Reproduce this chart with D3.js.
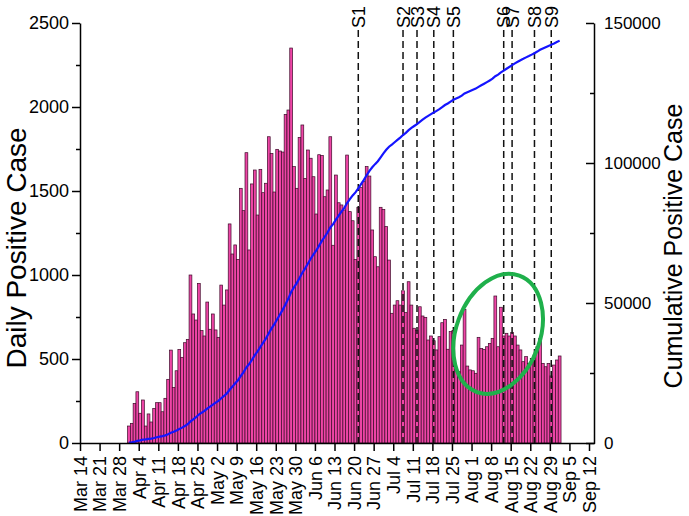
<!DOCTYPE html>
<html><head><meta charset="utf-8">
<script src="https://cdn.jsdelivr.net/npm/d3@7"></script>
<style>
body{margin:0;background:#fff}
svg{display:block}
text{font-family:"Liberation Sans",Arial,Helvetica,sans-serif;fill:#000}
</style>
</head><body>
<svg id="c" width="689" height="516"></svg>
<script>
// ---------------- data ----------------
const firstDate = "2020-03-31";
const dailyCases = [
101,117,236,305,177,256,101,173,125,206,240,240,186,266,379,553,331,430,557,510,597,617,1000,768,732,950,669,637,839,677,768,673,629,940,821,911,1304,1125,1179,
1093,1516,1383,1728,1149,1542,1625,1357,1629,1490,1546,1823,1724,1494,1748,1738,1732,1956,1982,2351,1645,1516,1819,1893,1575,1744,1695,1585,1363,1716,1712,1466,1506,1823,1177,1595,1430,1417,1387,1714,
1377,1323,1093,1403,1522,1556,1645,1589,1268,1109,1049,1403,1390,1288,1089,772,821,847,821,906,776,960,821,683,669,811,756,748,613,637,609,554,633,716,736,558,663,669,439,425,
583,796,458,435,430,415,629,563,557,573,593,623,875,573,808,637,653,637,657,637,583,554,484,514,474,504,524,573,623,474,454,474,399,464,494,518
];
const xDomain = ["2020-03-14", "2020-09-14"];
const xTickDates = ["2020-03-14","2020-03-21","2020-03-28","2020-04-04","2020-04-11","2020-04-18","2020-04-25",
  "2020-05-02","2020-05-09","2020-05-16","2020-05-23","2020-05-30","2020-06-06","2020-06-13","2020-06-20","2020-06-27",
  "2020-07-04","2020-07-11","2020-07-18","2020-07-25","2020-08-01","2020-08-08","2020-08-15","2020-08-22","2020-08-29",
  "2020-09-05","2020-09-12"];
const yLeftTicks = [0, 500, 1000, 1500, 2000, 2500];
const yLeftMinor = [250, 750, 1250, 1750, 2250];
const yRightTicks = [0, 50000, 100000, 150000];
const yRightMinor = [25000, 75000, 125000];
const stageLabels = ["S1","S2","S3","S4","S5","S6","S7","S8","S9"];
const stageDates = ["2020-06-21","2020-07-07","2020-07-12","2020-07-18","2020-07-25","2020-08-12","2020-08-15","2020-08-23","2020-08-29"];
const highlight = {date: "2020-08-10", value: 650};

// ---------------- chart ----------------
const svg = d3.select("#c");
const parse = d3.utcParse("%Y-%m-%d");
const x = d3.scaleUtc().domain(xDomain.map(parse)).range([80, 594.6]);
const yL = d3.scaleLinear().domain([0, 2500]).range([443, 23]);
const yR = d3.scaleLinear().domain([0, 150000]).range([443, 23]);
const t0 = parse(firstDate);
const rows = dailyCases.map((v, i) => ({date: d3.utcDay.offset(t0, i), v}));
const cum = d3.cumsum(dailyCases);
const halfDay = d => d3.utcHour.offset(d, 12);

// bars
svg.append("g").selectAll("rect").data(rows).join("rect")
  .attr("x", d => x(d.date))
  .attr("width", d => x(d3.utcDay.offset(d.date, 1)) - x(d.date))
  .attr("y", d => yL(d.v))
  .attr("height", d => yL(0) - yL(d.v))
  .attr("fill", "#ee45a6")
  .attr("stroke", "#3c0a28")
  .attr("stroke-width", 0.7);

// stage dashed lines
const sg = svg.append("g");
stageDates.forEach((s, i) => {
  const xs = x(halfDay(parse(s)));
  sg.append("line").attr("x1", xs).attr("x2", xs).attr("y1", 30).attr("y2", yL(0))
    .attr("stroke", "#111").attr("stroke-width", 1.5).attr("stroke-dasharray", "7,4");
  sg.append("text").attr("transform", `translate(${xs + 6.5},28) rotate(-90)`)
    .attr("text-anchor", "start").style("font-size", "18px").text(stageLabels[i]);
});

// cumulative line
svg.append("path")
  .datum(rows.map((d, i) => [x(halfDay(d.date)), yR(cum[i])]))
  .attr("d", d3.line())
  .attr("fill", "none").attr("stroke", "#1414ff").attr("stroke-width", 2.2);

// highlight ellipse
svg.append("ellipse")
  .attr("transform", `translate(${x(halfDay(parse(highlight.date)))},${yL(highlight.value)}) rotate(20)`)
  .attr("rx", 42).attr("ry", 62)
  .attr("fill", "none").attr("stroke", "#1fb04b").attr("stroke-width", 4);

// x axis
const gx = svg.append("g").attr("transform", `translate(0,${yL(0)})`)
  .call(d3.axisBottom(x).tickValues(xTickDates.map(parse)).tickFormat(d3.utcFormat("%b %-d")).tickSize(8).tickSizeOuter(0));
gx.selectAll("text").attr("transform", "rotate(-90)").attr("text-anchor", "end")
  .attr("x", -13).attr("y", 0).attr("dy", "0.35em").style("font-size", "18px");

// left axis
svg.append("g").attr("transform", "translate(80,0)")
  .call(d3.axisLeft(yL).tickValues(yLeftMinor).tickSize(4).tickFormat(""))
  .select(".domain").remove();
const gl = svg.append("g").attr("transform", "translate(80,0)")
  .call(d3.axisLeft(yL).tickValues(yLeftTicks).tickFormat(d3.format("d")).tickSize(8).tickPadding(3).tickSizeOuter(0));
gl.selectAll("text").style("font-size", "18px");

// right axis
svg.append("g").attr("transform", "translate(594,0)")
  .call(d3.axisRight(yR).tickValues(yRightMinor).tickSizeInner(-4).tickFormat(""))
  .select(".domain").remove();
const gr = svg.append("g").attr("transform", "translate(594,0)")
  .call(d3.axisRight(yR).tickValues(yRightTicks).tickFormat(d3.format("d")).tickSizeInner(-8).tickSizeOuter(0).tickPadding(10));
gr.selectAll("text").style("font-size", "17px");

svg.selectAll(".domain, .tick line").attr("stroke", "#000").attr("stroke-width", 1.5);

// titles
svg.append("text").attr("transform", "translate(26,248) rotate(-90)")
  .attr("text-anchor", "middle").style("font-size", "28px").text("Daily Positive Case");
svg.append("text").attr("transform", "translate(682,246) rotate(-90)")
  .attr("text-anchor", "middle").style("font-size", "25px").text("Cumulative Positive Case");
</script>
</body></html>
